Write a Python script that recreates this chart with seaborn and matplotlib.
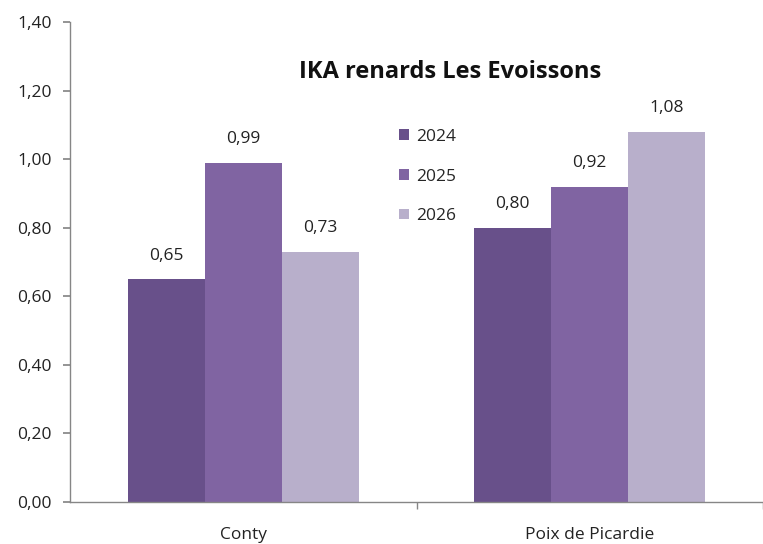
import matplotlib
matplotlib.use('Agg')
import matplotlib.pyplot as plt
from matplotlib.ticker import FixedLocator, FuncFormatter
import seaborn as sns
import pandas as pd

sites = ['Conty', 'Poix de Picardie']
years = ['2024', '2025', '2026']
ika_2024 = [0.65, 0.80]
ika_2025 = [0.99, 0.92]
ika_2026 = [0.73, 1.08]

colors = ['#68508A', '#8064A2', '#B8AFCB']
grey = '#868686'

rows = []
for year, vals in zip(years, [ika_2024, ika_2025, ika_2026]):
    for site, v in zip(sites, vals):
        rows.append({'site': site, 'year': year, 'ika': v})
df = pd.DataFrame(rows)

sns.set_theme(style='white')
plt.rcParams['font.family'] = ['Open Sans', 'DejaVu Sans']

fig = plt.figure(figsize=(7.63, 5.44), dpi=100)
ax = fig.add_axes([70/763, 1 - 502/544, 693/763, 480/544])

sns.barplot(data=df, x='site', y='ika', hue='year', palette=colors,
            width=0.667, gap=0, saturation=1, edgecolor='none', ax=ax)

for cont in ax.containers:
    ax.bar_label(cont, labels=[f'{v:.2f}'.replace('.', ',') for v in cont.datavalues],
                 padding=11, fontsize=12.5, color='#222222')

ax.set_ylim(0, 1.4)
ax.set_xlim(-0.5, 1.5)
ax.set_yticks([0, 0.2, 0.4, 0.6, 0.8, 1.0, 1.2, 1.4])
ax.yaxis.set_major_formatter(FuncFormatter(lambda v, p: f'{v:.2f}'.replace('.', ',')))
ax.xaxis.set_minor_locator(FixedLocator([0.5, 1.5]))
ax.tick_params(axis='x', which='major', length=0, pad=18, labelsize=12.5, labelcolor='#222222')
ax.tick_params(axis='x', which='minor', length=5, color=grey, direction='out', bottom=True)
ax.tick_params(axis='y', length=5, color=grey, direction='out', left=True,
               labelsize=12.5, labelcolor='#222222', pad=8)
ax.set_xlabel('')
ax.set_ylabel('')

for s in ['top', 'right']:
    ax.spines[s].set_visible(False)
for s in ['left', 'bottom']:
    ax.spines[s].set_color(grey)
    ax.spines[s].set_linewidth(1)

fig.text(450/763, 1 - 72/544, 'IKA renards Les Evoissons', ha='center', va='center',
         fontsize=17, fontweight='bold', color='#111111')

ax.legend(loc='upper left', bbox_to_anchor=(392/763, 1 - 122/544),
          bbox_transform=fig.transFigure, frameon=False, title=None,
          fontsize=12.5, handlelength=0.58, handleheight=0.58, handletextpad=0.4,
          labelspacing=1.36, borderaxespad=0)

fig.savefig('out.png', dpi=100)
